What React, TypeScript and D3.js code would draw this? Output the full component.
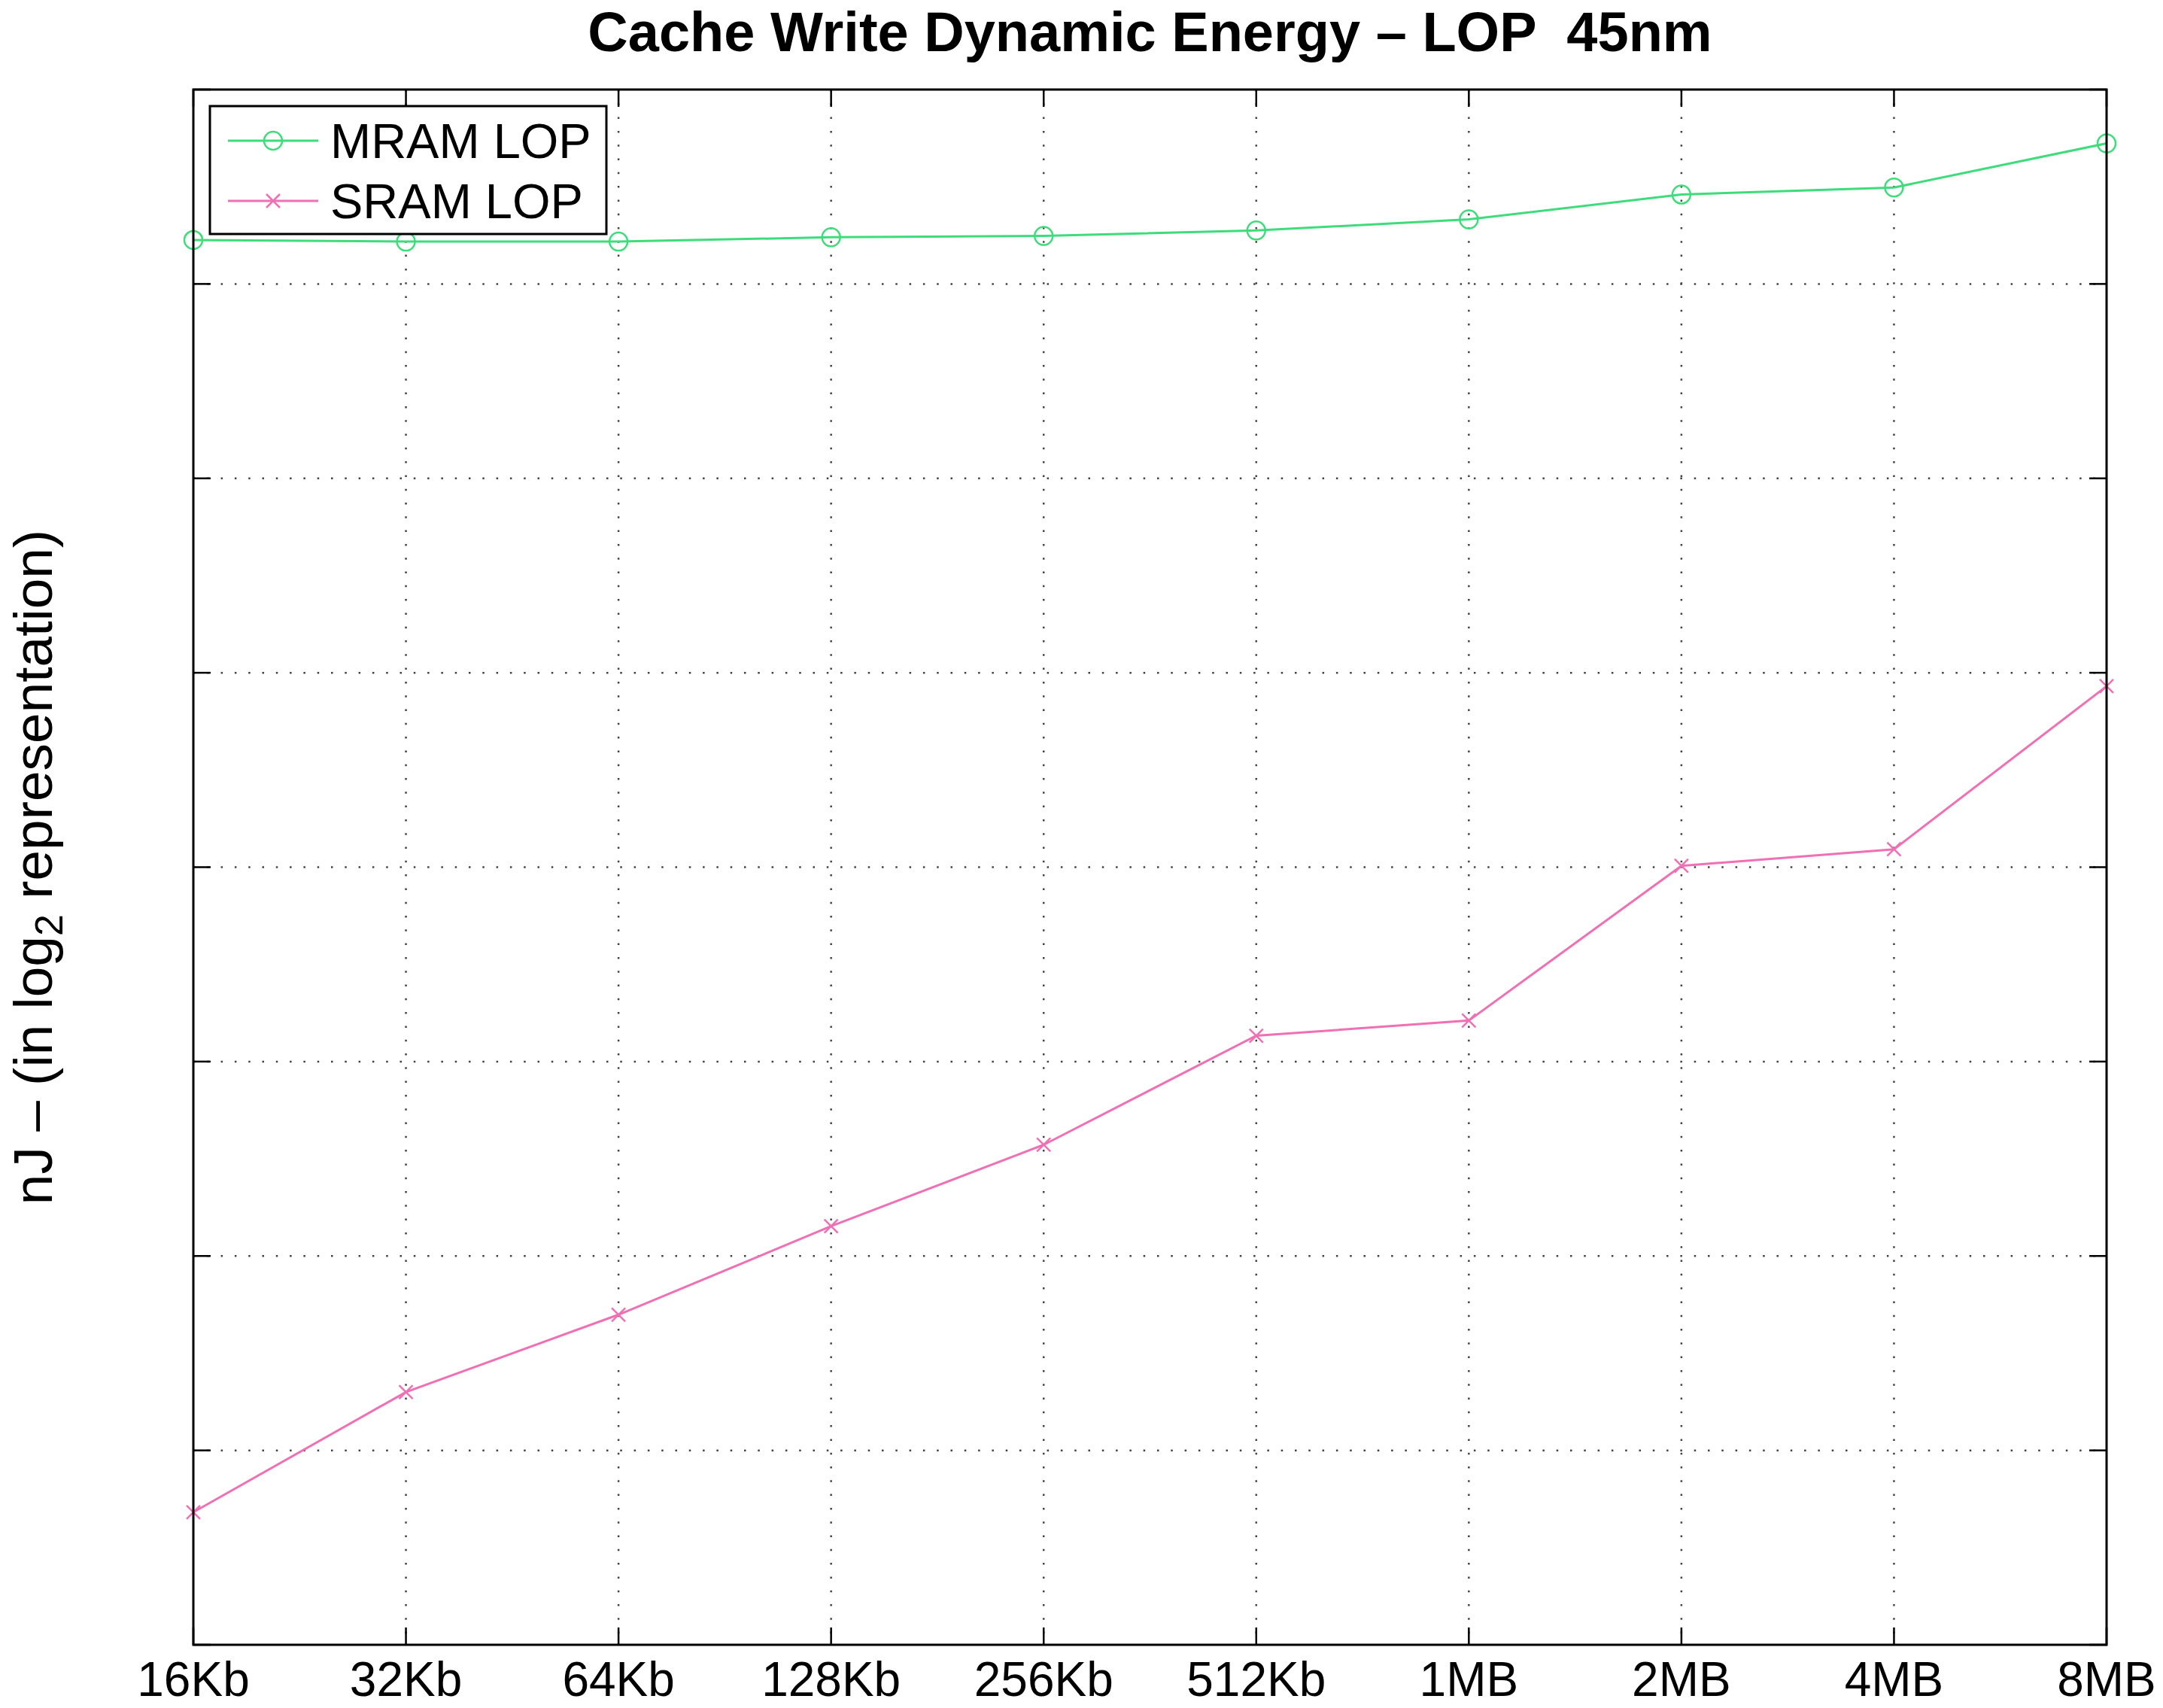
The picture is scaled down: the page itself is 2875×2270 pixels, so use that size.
import React from "react";
import * as d3 from "d3";

const categories = ["16Kb", "32Kb", "64Kb", "128Kb", "256Kb", "512Kb", "1MB", "2MB", "4MB", "8MB"];
const mramLop = [7.226, 7.218, 7.218, 7.24, 7.247, 7.275, 7.332, 7.46, 7.496, 7.723];
const sramLop = [0.682, 1.3, 1.698, 2.153, 2.572, 3.133, 3.211, 4.007, 4.092, 4.931];
const yTicks = [0, 1, 2, 3, 4, 5, 6, 7, 8];
const seriesNames = ["MRAM LOP", "SRAM LOP"];

const W = 2875;
const H = 2270;
const L = 257, R = 2800, T = 119, B = 2186;
const GREEN = "#3fdc7c";
const PINK = "#f070b4";
const FONT = "'Liberation Sans', Arial, Helvetica, sans-serif";

export default function App() {
  const x = d3.scalePoint<string>().domain(categories).range([L, R]).padding(0);
  const y = d3.scaleLinear().domain([0, 8]).range([B, T]);
  const line = d3
    .line<number>()
    .x((_, i) => x(categories[i]) as number)
    .y((d) => y(d));
  const tickLen = 23;
  const xMarker = (cx: number, cy: number, s: number, key: string, color: string) => (
    <path key={key} d={`M${cx - s},${cy - s}L${cx + s},${cy + s}M${cx - s},${cy + s}L${cx + s},${cy - s}`} stroke={color} strokeWidth={2.5} fill="none" />
  );
  return (
    <svg width={W} height={H} style={{ position: "absolute", left: 0, top: 0, background: "#fff" }} fontFamily={FONT}>
      <rect x={0} y={0} width={W} height={H} fill="#fff" />
      {/* grid */}
      {yTicks.slice(1, -1).map((t) => (
        <line key={"gy" + t} x1={L} x2={R} y1={y(t)} y2={y(t)} stroke="#444" strokeWidth={2.5} strokeDasharray="2.5 15.8" />
      ))}
      {categories.slice(1, -1).map((c) => (
        <line key={"gx" + c} x1={x(c)} x2={x(c)} y1={T} y2={B} stroke="#444" strokeWidth={2.5} strokeDasharray="2.5 15.8" />
      ))}
      {/* ticks */}
      {yTicks.map((t) => (
        <g key={"ty" + t}>
          <line x1={L} x2={L + tickLen} y1={y(t)} y2={y(t)} stroke="#000" strokeWidth={2.5} />
          <line x1={R - tickLen} x2={R} y1={y(t)} y2={y(t)} stroke="#000" strokeWidth={2.5} />
        </g>
      ))}
      {categories.map((c) => (
        <g key={"tx" + c}>
          <line x1={x(c)} x2={x(c)} y1={B} y2={B - tickLen} stroke="#000" strokeWidth={2.5} />
          <line x1={x(c)} x2={x(c)} y1={T} y2={T + tickLen} stroke="#000" strokeWidth={2.5} />
          <text x={x(c)} y={2254} textAnchor="middle" fontSize={64} fill="#000">
            {c}
          </text>
        </g>
      ))}
      {/* series */}
      <path d={line(mramLop) || ""} fill="none" stroke={GREEN} strokeWidth={3} />
      {mramLop.map((v, i) => (
        <circle key={"m" + i} cx={x(categories[i])} cy={y(v)} r={12} fill="none" stroke={GREEN} strokeWidth={2.5} />
      ))}
      <path d={line(sramLop) || ""} fill="none" stroke={PINK} strokeWidth={3} />
      {sramLop.map((v, i) => xMarker(x(categories[i]) as number, y(v), 9, "s" + i, PINK))}
      {/* axes box */}
      <rect x={L} y={T} width={R - L} height={B - T} fill="none" stroke="#000" strokeWidth={3} />
      {/* title */}
      <text x={(L + R) / 2} y={68} textAnchor="middle" fontSize={74} fontWeight="bold" fill="#000" style={{ whiteSpace: "pre" }}>
        {"Cache Write Dynamic Energy – LOP  45nm"}
      </text>
      {/* y label */}
      <text transform={`translate(69,${(T + B) / 2}) rotate(-90)`} textAnchor="middle" fontSize={73} fill="#000">
        nJ – (in log<tspan fontSize={52} dy={14}>2</tspan><tspan dy={-14}> representation)</tspan>
      </text>
      {/* legend */}
      <rect x={279} y={141} width={527} height={170} fill="#fff" stroke="#000" strokeWidth={3} />
      <line x1={303} x2={423} y1={187} y2={187} stroke={GREEN} strokeWidth={3} />
      <circle cx={363} cy={187} r={12} fill="none" stroke={GREEN} strokeWidth={2.5} />
      <text x={439} y={210} fontSize={65} fill="#000">{seriesNames[0]}</text>
      <line x1={303} x2={423} y1={267} y2={267} stroke={PINK} strokeWidth={3} />
      {xMarker(363, 267, 9, "lx", PINK)}
      <text x={439} y={290} fontSize={65} fill="#000">{seriesNames[1]}</text>
    </svg>
  );
}
